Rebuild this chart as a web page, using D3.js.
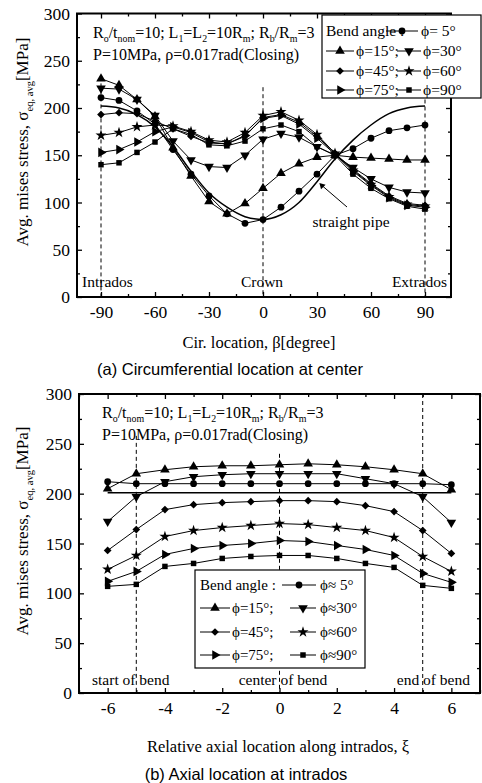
<!DOCTYPE html>
<html><head><meta charset="utf-8">
<script src="https://cdn.jsdelivr.net/npm/d3@7"></script>
<style>
body{margin:0;background:#fff}
svg{display:block}
text{font-family:"Liberation Serif","Times New Roman",serif;fill:#000}
text.cap{font-family:"Liberation Sans",Arial,sans-serif}
</style>
</head><body>
<svg id="c" width="482" height="783"></svg>
<script>
// ---------- DATA: (a) circumferential location at center ----------
const betaDeg = [-90,-80,-70,-60,-50,-40,-30,-20,-10,0,10,20,30,40,50,60,70,80,90];
const pipeA  = [202,200,193,180,159,133,110,95,85,82,87,100,122,146,166,182,194,200,202];
const phi5A  = [211,208,197,183,156,130,107,88,78,82,95,112,130,150,157,168,176,179,182];
const phi15A = [231,224,209,191,158,128,101,88,99,115,131,141,148,150,148,147,146,145,145];
const phi30A = [221,220,209,192,165,145,138,137,150,167,173,169,159,150,137,125,116,111,110];
const phi45A = [193,195,194,186,178,170,163,162,170,190,193,185,170,152,135,120,107,99,97];
const phi60A = [171,174,180,182,181,175,166,164,174,192,196,187,172,152,134,119,106,98,96];
const phi75A = [153,156,164,175,180,174,164,162,171,189,192,183,168,151,133,118,105,97,95];
const phi90A = [140,142,153,164,178,172,161,160,165,178,182,175,159,150,130,115,104,96,93];
const xTicksA = [-90,-60,-30,0,30,60,90];
const yTicks = [0,50,100,150,200,250,300];

// ---------- DATA: (b) axial location at intrados ----------
const xi = [-6,-5,-4,-3,-2,-1,0,1,2,3,4,5,6];
const pipeB  = [201,201,201,201,201,201,201,201,201,201,201,201,201];
const phi5B  = [212,210,210,210,210,210,210,210,210,210,210,210,209];
const phi15B = [205,220,224,227,228,228,229,230,229,227,224,220,204];
const phi30B = [172,197,212,217,219,220,220,220,220,215,210,197,171];
const phi45B = [143,164,184,189,191,192,193,193,192,188,182,163,140];
const phi60B = [124,138,157,163,166,168,170,169,166,163,156,137,122];
const phi75B = [112,122,139,145,148,150,153,152,148,144,138,120,111];
const phi90B = [107,109,127,130,135,137,138,138,135,130,126,108,105];
const xTicksB = [-6,-4,-2,0,2,4,6];

const svg = d3.select("#c");
const SERIF = '"Liberation Serif","Times New Roman",serif';

const markerDefs = {
  circle:  {type:d3.symbolCircle,  size:36, rot:0},
  tri:     {type:d3.symbolTriangle,size:40, rot:0},
  tdown:   {type:d3.symbolTriangle,size:40, rot:180},
  diamond: {type:d3.symbolSquare,  size:30, rot:45},
  star:    {type:d3.symbolStar,    size:38, rot:0},
  tright:  {type:d3.symbolTriangle,size:40, rot:90},
  square:  {type:d3.symbolSquare,  size:30, rot:0}
};
function marker(g, shape, cx, cy){
  const m = markerDefs[shape];
  g.append("path").attr("d", d3.symbol().type(m.type).size(m.size)())
   .attr("transform", `translate(${cx},${cy}) rotate(${m.rot})`).attr("fill","#000");
}
function rich(g, x, y, parts, size, anchor){
  const t = g.append("text").attr("x",x).attr("y",y).attr("font-size",size)
    .attr("text-anchor", anchor||"start");
  let prevSub = false;
  parts.forEach(p=>{
    const sub = Array.isArray(p);
    const s = sub ? p[0] : p;
    const ts = t.append("tspan").text(s);
    if (sub) { ts.attr("font-size", size*0.62); if(!prevSub) ts.attr("dy", size*0.28); }
    else if (prevSub) ts.attr("dy", -size*0.28);
    prevSub = sub;
  });
  return t;
}

function drawChart(cfg){
  const g = svg.append("g");
  const {x, y, L, R, T, B} = cfg;
  cfg.guides.forEach(d=>{
    g.append("line").attr("x1",x(d.at)).attr("x2",x(d.at)).attr("y1",y(d.from)).attr("y2",y(0))
     .attr("stroke","#000").attr("stroke-width",1).attr("stroke-dasharray","4,3");
  });
  g.append("path").datum(cfg.xs.map((v,i)=>[v,cfg.pipe[i]]))
   .attr("d", d3.line().x(d=>x(d[0])).y(d=>y(d[1])).curve(d3.curveMonotoneX))
   .attr("fill","none").attr("stroke","#000").attr("stroke-width",1.5);
  cfg.series.forEach(s=>{
    const pts = cfg.xs.map((v,i)=>[v,s.vals[i]]);
    g.append("path").datum(pts).attr("d", d3.line().x(d=>x(d[0])).y(d=>y(d[1])))
     .attr("fill","none").attr("stroke","#000").attr("stroke-width",1);
    pts.forEach(p=>marker(g, s.shape, x(p[0]), y(p[1])));
  });
  const fixAxis = sel => { sel.select(".domain").remove(); sel.selectAll("line").attr("stroke-width",1.3);
      sel.selectAll("text").style("font-family",SERIF).attr("font-size",17.5).attr("fill","#000"); };
  g.append("g").attr("transform",`translate(0,${B})`)
   .call(d3.axisBottom(x).tickValues(cfg.xMajor).tickSize(-5).tickPadding(9).tickFormat(d=>String(d))).call(fixAxis);
  g.append("g").attr("transform",`translate(0,${B})`)
   .call(d3.axisBottom(x).tickValues(cfg.xMinor).tickSize(-3).tickFormat("")).call(fixAxis);
  g.append("g").attr("transform",`translate(0,${T})`)
   .call(d3.axisTop(x).tickValues(cfg.xMajor).tickSize(-5).tickFormat("")).call(fixAxis);
  g.append("g").attr("transform",`translate(0,${T})`)
   .call(d3.axisTop(x).tickValues(cfg.xMinor).tickSize(-3).tickFormat("")).call(fixAxis);
  g.append("g").attr("transform",`translate(${L},0)`)
   .call(d3.axisLeft(y).tickValues(yTicks).tickSize(-5).tickPadding(7).tickFormat(d=>String(d))).call(fixAxis);
  g.append("g").attr("transform",`translate(${L},0)`)
   .call(d3.axisLeft(y).tickValues(d3.range(25,300,50)).tickSize(-3).tickFormat("")).call(fixAxis);
  g.append("g").attr("transform",`translate(${R},0)`)
   .call(d3.axisRight(y).tickValues(yTicks).tickSize(-5).tickFormat("")).call(fixAxis);
  g.append("g").attr("transform",`translate(${R},0)`)
   .call(d3.axisRight(y).tickValues(d3.range(25,300,50)).tickSize(-3).tickFormat("")).call(fixAxis);
  g.append("rect").attr("x",L).attr("y",T).attr("width",R-L).attr("height",B-T)
   .attr("fill","none").attr("stroke","#000").attr("stroke-width",2);
  const lg = cfg.legend;
  g.append("rect").attr("x",lg.x0).attr("y",lg.y0).attr("width",lg.x1-lg.x0).attr("height",lg.y1-lg.y0)
   .attr("fill","#fff").attr("stroke","#000").attr("stroke-width",1.2);
  const sym = (x1,x2,yy,shape)=>{
    g.append("line").attr("x1",x1).attr("x2",x2).attr("y1",yy).attr("y2",yy).attr("stroke","#000").attr("stroke-width",1);
    marker(g, shape, (x1+x2)/2, yy);
  };
  lg.rows.forEach((row,ri)=>{
    const yy = lg.rowY[ri];
    row.forEach(it=>{
      if (it.text!==undefined) g.append("text").attr("x",it.x).attr("y",yy+5).attr("font-size",lg.fs).text(it.text);
      else sym(it.x1,it.x2,yy,it.shape);
    });
  });
  cfg.labels.forEach(l=>{
    g.append("text").attr("x",l.x).attr("y",l.y).attr("font-size",l.fs).attr("text-anchor",l.anchor||"start").text(l.t);
  });
  rich(g, cfg.noteX, cfg.noteY, ["R",["o"],"/t",["nom"],"=10; L",["1"],"=L",["2"],"=10R",["m"],"; R",["b"],"/R",["m"],"=3"], 16);
  g.append("text").attr("x",cfg.noteX).attr("y",cfg.noteY+22).attr("font-size",16).text("P=10MPa, ρ=0.017rad(Closing)");
  const yt = rich(g, 0, 0, ["Avg. mises stress, σ",["eq, avg"],"[MPa]"], 17, "middle");
  yt.attr("transform",`translate(${cfg.yTitleX},${cfg.yTitleY}) rotate(-90)`);
  return g;
}

const shapesOrder = ["circle","tri","tdown","diamond","star","tright","square"];

// ---------- chart (a) ----------
const xA = d3.scaleLinear().domain([-90,90]).range([101,425]);
const yA = d3.scaleLinear().domain([0,300]).range([297,13.5]);
const gA = drawChart({
  x:xA, y:yA, L:77, R:451, T:13.5, B:297,
  xs: betaDeg, pipe: pipeA,
  series: [phi5A,phi15A,phi30A,phi45A,phi60A,phi75A,phi90A].map((v,i)=>({vals:v, shape:shapesOrder[i]})),
  xMajor: xTicksA, xMinor: d3.range(-90,91,15).filter(d=>d%30!==0),
  guides: [{at:-90,from:226},{at:0,from:222},{at:90,from:209}],
  legend: {x0:322, x1:481, y0:15, y1:98, fs:15.5, rowY:[31,51,71,90],
    rows:[
      [{text:"Bend angle :", x:326},{x1:386,x2:418,shape:"circle"},{text:"ϕ=  5°", x:421}],
      [{x1:326,x2:354,shape:"tri"},{text:"ϕ=15°;", x:356},{x1:397,x2:421,shape:"tdown"},{text:"ϕ=30°", x:423}],
      [{x1:326,x2:354,shape:"diamond"},{text:"ϕ=45°;", x:356},{x1:397,x2:421,shape:"star"},{text:"ϕ=60°", x:423}],
      [{x1:326,x2:354,shape:"tright"},{text:"ϕ=75°;", x:356},{x1:397,x2:421,shape:"square"},{text:"ϕ=90°", x:423}]
    ]},
  labels: [
    {t:"Intrados", x:82, y:287, fs:15.5},
    {t:"Crown", x:262, y:287, fs:15.5, anchor:"middle"},
    {t:"Extrados", x:447, y:287, fs:15.5, anchor:"end"},
    {t:"straight pipe", x:351, y:227, fs:15.5, anchor:"middle"},
    {t:"Cir. location, β[degree]", x:259, y:348, fs:16.5, anchor:"middle"}
  ],
  noteX:93, noteY:38, yTitleX:28, yTitleY:142
});
gA.append("line").attr("x1",347).attr("y1",207).attr("x2",xA(30)+4).attr("y2",yA(pipeA[12])+3)
  .attr("stroke","#000").attr("stroke-width",1);
gA.append("path").attr("d",d3.symbol().type(d3.symbolTriangle).size(18)())
  .attr("transform",`translate(${xA(30)+5},${yA(pipeA[12])+4}) rotate(-45)`).attr("fill","#000");
svg.append("text").attr("class","cap").attr("x",230).attr("y",375).attr("font-size",16.5)
  .attr("text-anchor","middle").text("(a)  Circumferential location at center");

// ---------- chart (b) ----------
const xB = d3.scaleLinear().domain([-7,7]).range([79,480]);
const yB = d3.scaleLinear().domain([0,300]).range([693,394]);
drawChart({
  x:xB, y:yB, L:79, R:480, T:394, B:693,
  xs: xi, pipe: pipeB,
  series: [phi5B,phi15B,phi30B,phi45B,phi60B,phi75B,phi90B].map((v,i)=>({vals:v, shape:shapesOrder[i]})),
  xMajor: xTicksB, xMinor: [-7,-5,-3,-1,1,3,5,7],
  guides: [{at:-5,from:258},{at:0,from:240},{at:5,from:300}],
  legend: {x0:195, x1:365, y0:570, y1:668, fs:15, rowY:[585,608,632,655],
    rows:[
      [{text:"Bend angle :", x:200},{x1:282,x2:316,shape:"circle"},{text:"ϕ≈  5°", x:320}],
      [{x1:200,x2:230,shape:"tri"},{text:"ϕ=15°;", x:232},{x1:290,x2:316,shape:"tdown"},{text:"ϕ≈30°", x:320}],
      [{x1:200,x2:230,shape:"diamond"},{text:"ϕ=45°;", x:232},{x1:290,x2:316,shape:"star"},{text:"ϕ≈60°", x:320}],
      [{x1:200,x2:230,shape:"tright"},{text:"ϕ=75°;", x:232},{x1:290,x2:316,shape:"square"},{text:"ϕ≈90°", x:320}]
    ]},
  labels: [
    {t:"start of bend", x:92, y:685, fs:15.5},
    {t:"center of bend", x:283, y:685, fs:15.5, anchor:"middle"},
    {t:"end of bend", x:470, y:685, fs:15.5, anchor:"end"},
    {t:"Relative axial location along intrados, ξ", x:278, y:752, fs:16.5, anchor:"middle"}
  ],
  noteX:102, noteY:418, yTitleX:28, yTitleY:531
});
svg.append("text").attr("class","cap").attr("x",246).attr("y",780).attr("font-size",16.5)
  .attr("text-anchor","middle").text("(b)  Axial location at intrados");
</script>
</body></html>
